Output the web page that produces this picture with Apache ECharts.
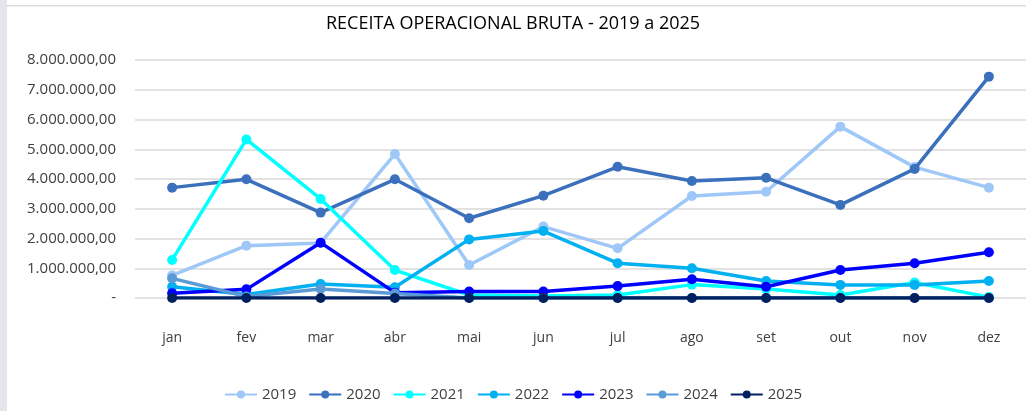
<!DOCTYPE html>
<html>
<head>
<meta charset="utf-8">
<script src="https://cdn.jsdelivr.net/npm/echarts@6/dist/echarts.min.js"></script>
<style>
  html, body { margin: 0; padding: 0; background: #fff; }
  #chart { width: 1026px; height: 411px; }
</style>
</head>
<body>
<div id="chart"></div>
<script>
// meses
const MONTHS = ['jan', 'fev', 'mar', 'abr', 'mai', 'jun', 'jul', 'ago', 'set', 'out', 'nov', 'dez'];

// receita por ano (R$)
const Y2019 = [760000, 1760000, 1850000, 4840000, 1110000, 2400000, 1670000, 3430000, 3570000, 5760000, 4400000, 3710000];
const Y2020 = [3710000, 3990000, 2870000, 3990000, 2680000, 3440000, 4410000, 3930000, 4040000, 3130000, 4340000, 7440000];
const Y2021 = [1280000, 5330000, 3330000, 940000, 100000, 70000, 100000, 450000, 300000, 100000, 520000, 30000];
const Y2022 = [380000, 120000, 470000, 360000, 1970000, 2250000, 1170000, 1000000, 570000, 440000, 440000, 570000];
const Y2023 = [160000, 290000, 1860000, 180000, 220000, 220000, 400000, 630000, 380000, 940000, 1170000, 1540000];
const Y2024 = [660000, 50000, 300000, 150000, 0, 0, 0, 0, 0, 0, 0, 0];
const Y2025 = [0, 0, 0, 0, 0, 0, 0, 0, 0, 0, 0, 0];

const YEARS = ['2019', '2020', '2021', '2022', '2023', '2024', '2025'];
const VALUES = [Y2019, Y2020, Y2021, Y2022, Y2023, Y2024, Y2025];
const COLORS = ['#9fc8f8', '#3a70bc', '#00ffff', '#00b0f0', '#0000ff', '#5b9bd5', '#002060'];

const FONT = '"Open Sans", sans-serif';

function fmtBR(v) {
  if (v === 0) return '-';
  return v.toLocaleString('pt-BR', { minimumFractionDigits: 2, maximumFractionDigits: 2 });
}

const chart = echarts.init(document.getElementById('chart'));

chart.setOption({
  backgroundColor: '#fff',
  animation: false,
  color: COLORS,
  // moldura clara do print
  graphic: [
    { type: 'rect', left: 0, top: 0, shape: { width: 7, height: 411 }, style: { fill: '#e5e5ee' } },
    { type: 'rect', left: 7, top: 5, shape: { width: 1019, height: 1.5 }, style: { fill: '#dcdcdc' } }
  ],
  title: {
    text: 'RECEITA OPERACIONAL BRUTA - 2019 a 2025',
    left: 'center',
    top: 10,
    textStyle: { fontFamily: FONT, fontSize: 18, fontWeight: 'normal', color: '#000' }
  },
  legend: {
    data: YEARS,
    bottom: 4,
    left: 'center',
    itemWidth: 32,
    itemHeight: 10,
    itemGap: 12,
    textStyle: { fontFamily: FONT, fontSize: 15, color: '#404040' }
  },
  grid: { left: 135, top: 60, width: 898, height: 238 },
  xAxis: {
    type: 'category',
    data: MONTHS,
    boundaryGap: true,
    axisLine: { show: false },
    axisTick: { show: false },
    axisLabel: { margin: 33, fontFamily: FONT, fontSize: 14, color: '#404040' }
  },
  yAxis: {
    type: 'value',
    min: 0,
    max: 8000000,
    interval: 1000000,
    axisLine: { show: false },
    axisTick: { show: false },
    splitLine: { lineStyle: { color: '#d9d9d9', width: 1.5 } },
    axisLabel: { margin: 19, fontFamily: FONT, fontSize: 15, color: '#404040', formatter: fmtBR }
  },
  series: YEARS.map((y, i) => ({
    name: y,
    type: 'line',
    data: VALUES[i],
    symbol: 'circle',
    symbolSize: 10,
    lineStyle: { width: 3.5, color: COLORS[i] },
    itemStyle: { color: COLORS[i] },
    z: 2 + i
  }))
});
</script>
</body>
</html>
